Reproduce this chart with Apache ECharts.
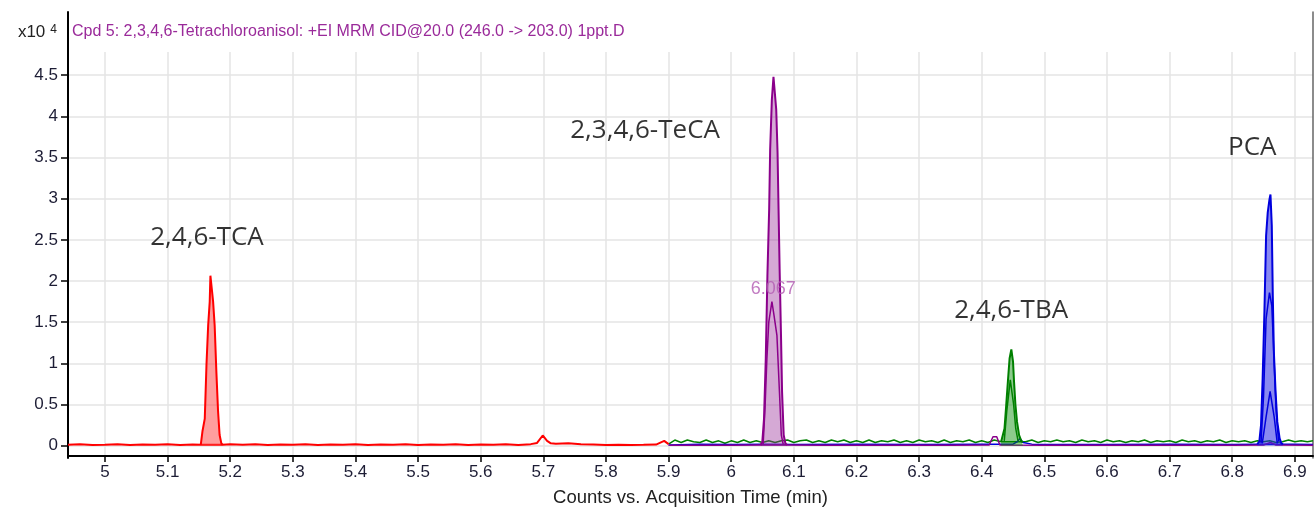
<!DOCTYPE html>
<html>
<head>
<meta charset="utf-8">
<script src="https://cdn.jsdelivr.net/npm/echarts@6/dist/echarts.min.js"></script>
<style>
html,body{margin:0;padding:0;background:#fff;}
#chart{width:1315px;height:512px;}
</style>
</head>
<body>
<div id="chart"></div>
<script>
// tick positions (min / x10^4 counts)
var xTicks = [5, 5.1, 5.2, 5.3, 5.4, 5.5, 5.6, 5.7, 5.8, 5.9, 6, 6.1, 6.2, 6.3, 6.4, 6.5, 6.6, 6.7, 6.8, 6.9];
var yTicks = [0, 0.5, 1, 1.5, 2, 2.5, 3, 3.5, 4, 4.5];

// 2,4,6-TCA trace (red)
var tcaBase = [[4.941,0.012],[4.96,0.018],[4.98,0.01],[5.0,0.014],[5.02,0.02],[5.04,0.01],[5.06,0.016],[5.08,0.012],[5.10,0.018],[5.12,0.01],[5.14,0.015],[5.153,0.012],
  [5.188,0.012],[5.20,0.02],[5.22,0.012],[5.24,0.018],[5.26,0.01],[5.28,0.016],[5.30,0.012],[5.32,0.02],[5.34,0.01],[5.36,0.015],[5.38,0.012],[5.40,0.018],
  [5.42,0.01],[5.44,0.016],[5.46,0.012],[5.48,0.02],[5.50,0.01],[5.52,0.015],[5.54,0.012],[5.56,0.018],[5.58,0.01],[5.60,0.016],[5.62,0.012],[5.64,0.018],
  [5.66,0.01],[5.68,0.02],[5.69,0.035],[5.699,0.125],[5.706,0.06],[5.712,0.03],[5.72,0.025],[5.74,0.03],[5.76,0.02],[5.78,0.015],[5.80,0.01],[5.82,0.012],
  [5.84,0.01],[5.86,0.012],[5.88,0.015],[5.893,0.06],[5.9,0.02]];
var tcaPeak = [[5.153,0.012],[5.1558,0.18],[5.1594,0.33],[5.1621,0.98],[5.1648,1.46],[5.1673,1.75],[5.1684,2.065],[5.1711,1.87],[5.1727,1.75],
  [5.1752,1.46],[5.1779,0.9],[5.1806,0.42],[5.1831,0.13],[5.1858,0.03],[5.188,0.012]];

// 2,3,4,6-TeCA trace (purple)
var tecaBase = [[5.9,0.005],[5.95,0.008],[6.0,0.006],[6.047,0.01],[6.089,0.01],[6.15,0.006],[6.25,0.008],[6.35,0.006],[6.412,0.01],[6.418,0.11],
  [6.424,0.11],[6.429,0.01],[6.5,0.008],[6.6,0.006],[6.7,0.008],[6.8,0.006],[6.85,0.01],[6.861,0.04],[6.87,0.01],[6.929,0.008]];
var tecaPeak = [[6.047,0.01],[6.0497,0.05],[6.0524,0.33],[6.0552,1.06],[6.0578,2.06],[6.0606,2.87],[6.0622,3.6],[6.0649,4.2],[6.0675,4.48],
  [6.0703,4.5],[6.0719,4.08],[6.074,3.56],[6.0756,2.87],[6.0773,2.15],[6.0795,1.34],[6.0812,0.66],[6.0838,0.13],[6.0865,0.03],[6.089,0.01]];
var tecaQual = [[6.051,0.02],[6.054,0.46],[6.057,1.06],[6.060,1.5],[6.065,1.75],[6.068,1.6],[6.073,1.34],[6.077,0.66],[6.080,0.13],[6.083,0.02]];

// 2,4,6-TBA trace (green)
var tbaBase = [[5.9,0.02],[5.91,0.07],[5.92,0.04],[5.93,0.07],[5.94,0.05],[5.95,0.04],[5.96,0.07],[5.97,0.04],[5.98,0.06],[5.99,0.03],[6.0,0.06],
  [6.01,0.04],[6.02,0.07],[6.03,0.04],[6.04,0.06],[6.05,0.04],[6.06,0.06],[6.07,0.04],[6.08,0.06],[6.09,0.07],[6.10,0.04],[6.11,0.06],[6.12,0.07],
  [6.13,0.04],[6.14,0.06],[6.15,0.04],[6.16,0.07],[6.17,0.05],[6.18,0.07],[6.19,0.04],[6.20,0.06],[6.21,0.04],[6.22,0.07],[6.23,0.04],[6.24,0.06],
  [6.25,0.05],[6.26,0.07],[6.27,0.04],[6.28,0.06],[6.29,0.04],[6.30,0.07],[6.31,0.05],[6.32,0.06],[6.33,0.04],[6.34,0.07],[6.35,0.04],[6.36,0.06],
  [6.37,0.05],[6.38,0.07],[6.39,0.04],[6.40,0.06],[6.41,0.04],[6.42,0.07],[6.431,0.05],[6.466,0.05],[6.47,0.05],[6.48,0.07],[6.49,0.04],[6.50,0.06],
  [6.51,0.05],[6.52,0.07],[6.53,0.05],[6.54,0.06],[6.55,0.04],[6.56,0.07],[6.57,0.05],[6.58,0.06],[6.59,0.04],[6.60,0.07],[6.61,0.05],[6.62,0.06],
  [6.63,0.04],[6.64,0.06],[6.65,0.05],[6.66,0.07],[6.67,0.04],[6.68,0.06],[6.69,0.05],[6.70,0.06],[6.71,0.04],[6.72,0.07],[6.73,0.05],[6.74,0.06],
  [6.75,0.04],[6.76,0.06],[6.77,0.05],[6.78,0.07],[6.79,0.04],[6.80,0.06],[6.81,0.05],[6.82,0.06],[6.83,0.04],[6.84,0.06],[6.85,0.05],[6.86,0.06],
  [6.87,0.04],[6.88,0.05],[6.89,0.07],[6.90,0.05],[6.91,0.06],[6.92,0.05],[6.929,0.06]];
var tbaPeak = [[6.431,0.05],[6.4336,0.06],[6.4364,0.21],[6.4392,0.5],[6.4418,0.78],[6.4445,1.06],[6.4473,1.17],[6.45,1.02],[6.4516,0.78],
  [6.4538,0.5],[6.4564,0.29],[6.4597,0.13],[6.4636,0.05],[6.466,0.05]];
var tbaQual = [[6.436,0.06],[6.440,0.42],[6.4456,0.8],[6.451,0.5],[6.4543,0.21],[6.458,0.06]];

// PCA trace (blue)
var pcaBase = [[5.9,0.01],[5.95,0.02],[6.0,0.015],[6.05,0.02],[6.1,0.015],[6.2,0.02],[6.3,0.015],[6.4,0.02],[6.45,0.02],[6.457,0.05],[6.461,0.09],
  [6.466,0.04],[6.48,0.02],[6.6,0.015],[6.7,0.02],[6.8,0.015],[6.84,0.02],[6.881,0.02],[6.9,0.02],[6.929,0.015]];
var pcaPeak = [[6.840,0.02],[6.8433,0.05],[6.846,0.25],[6.8486,0.82],[6.8514,1.62],[6.8541,2.55],[6.8567,2.83],[6.8595,2.99],[6.8611,3.05],
  [6.8632,2.67],[6.8648,1.82],[6.8665,1.14],[6.8692,0.66],[6.872,0.29],[6.8757,0.09],[6.8785,0.03],[6.881,0.02]];
var pcaQual1 = [[6.846,0.03],[6.850,0.6],[6.8541,1.54],[6.8595,1.86],[6.8632,1.7],[6.8659,1.22],[6.870,0.45],[6.874,0.05]];
var pcaQual2 = [[6.848,0.03],[6.8541,0.35],[6.8605,0.66],[6.867,0.35],[6.872,0.03]];

// peak annotations
var labelNames = ['2,4,6-TCA', '2,3,4,6-TeCA', '2,4,6-TBA', 'PCA'];
var labelTimes = [5.163, 5.8625, 6.447, 6.832];
var labelCounts = [2.53, 3.82, 1.64, 3.62];
var rtMark = [[6.067, 1.905]];

var AXIS_FONT = 'Liberation Sans, Arial, sans-serif';

function trace(data, color, width, z) {
  return {
    type: 'line', data: data, symbol: 'none', showSymbol: false, silent: true,
    lineStyle: { color: color, width: width }, z: z
  };
}
function peak(data, color, fill, z) {
  var s = trace(data, color, 2, z);
  s.areaStyle = { color: fill, opacity: 1 };
  return s;
}

var series = [
  trace(tbaBase, '#008000', 1.5, 2),
  trace(pcaBase, '#0000dd', 1.5, 3),
  trace(tecaBase, '#8b008b', 1.5, 4),
  trace(tcaBase, '#ff0000', 2, 5),
  peak(tcaPeak, '#ff0000', 'rgba(255,60,60,0.5)', 6),
  peak(tbaPeak, '#008000', 'rgba(0,140,0,0.45)', 6),
  trace(tbaQual, '#008000', 1.5, 7),
  peak(pcaPeak, '#0000dd', 'rgba(40,40,230,0.55)', 6),
  trace(pcaQual1, '#0000dd', 1.5, 7),
  trace(pcaQual2, '#0000dd', 1.5, 7),
  peak(tecaPeak, '#8b008b', 'rgba(150,40,150,0.4)', 6),
  trace(tecaQual, '#8b008b', 1.5, 7),
  {
    type: 'scatter', symbolSize: 0, silent: true, z: 10,
    data: labelTimes.map(function (t, i) { return [t, labelCounts[i], labelNames[i]]; }),
    label: {
      show: true, position: 'inside', color: '#000',
      fontFamily: 'Open Sans', fontSize: 26,
      formatter: function (p) { return p.data[2]; }
    }
  },
  {
    type: 'scatter', symbolSize: 0, silent: true, z: 10,
    data: rtMark,
    label: {
      show: true, position: 'inside', color: '#b25ab2',
      fontFamily: AXIS_FONT, fontSize: 18,
      formatter: function (p) { return p.data[0].toFixed(3); }
    }
  }
];

var chart = echarts.init(document.getElementById('chart'), null, { renderer: 'canvas' });
chart.setOption({
  animation: false,
  backgroundColor: '#fff',
  title: {
    text: 'Cpd 5: 2,3,4,6-Tetrachloroanisol: +EI MRM CID@20.0 (246.0 -> 203.0) 1ppt.D',
    left: 72, top: 24, padding: 0,
    textStyle: { fontSize: 16, color: '#9a2a9a', fontWeight: 'normal', fontFamily: AXIS_FONT }
  },
  grid: [
    { left: 68, right: 2, top: 52, bottom: 54 },
    { left: 68, right: 2, top: 12, bottom: 54 }
  ],
  xAxis: [
    {
      type: 'value', gridIndex: 0, min: 4.941, max: 6.929,
      name: 'Counts vs. Acquisition Time (min)', nameLocation: 'middle', nameGap: 32,
      nameTextStyle: { fontSize: 18.5, color: '#222', fontFamily: AXIS_FONT },
      axisLine: { onZero: false, lineStyle: { color: '#000', width: 2 } },
      axisTick: { show: true, length: 6, customValues: xTicks, lineStyle: { color: '#000', width: 1.5 } },
      axisLabel: { customValues: xTicks, margin: 8, fontSize: 17, color: '#1d1d35', fontFamily: AXIS_FONT },
      splitLine: { show: true, lineStyle: { color: '#e4e4e4', width: 1.5 } }
    },
    { type: 'value', gridIndex: 1, min: 0, max: 1, show: false }
  ],
  yAxis: [
    {
      type: 'value', gridIndex: 0, min: -0.124, max: 4.78,
      name: 'x10{sup|4}', nameLocation: 'end', nameGap: 11,
      nameTextStyle: {
        fontSize: 17, color: '#222', fontFamily: AXIS_FONT, align: 'right', padding: [0, 11, 0, 0],
        rich: { sup: { fontSize: 12, color: '#222', fontFamily: AXIS_FONT, padding: [0, 0, 5, 5] } }
      },
      axisLine: { show: false, onZero: false },
      axisTick: { show: true, length: 7, customValues: yTicks, lineStyle: { color: '#000', width: 1.5 } },
      axisLabel: { customValues: yTicks, margin: 10, fontSize: 17, color: '#1d1d35', fontFamily: AXIS_FONT },
      splitLine: { show: true, lineStyle: { color: '#e4e4e4', width: 1.5 } }
    },
    {
      type: 'value', gridIndex: 1, min: 0, max: 1,
      axisLine: { show: true, onZero: false, lineStyle: { color: '#000', width: 2 } },
      axisTick: { show: false }, axisLabel: { show: false }, splitLine: { show: false }
    },
    {
      type: 'value', gridIndex: 1, min: 0, max: 1, position: 'right',
      axisLine: { show: true, onZero: false, lineStyle: { color: '#666', width: 1.5 } },
      axisTick: { show: false }, axisLabel: { show: false }, splitLine: { show: false }
    }
  ],
  series: series
});
</script>
</body>
</html>
